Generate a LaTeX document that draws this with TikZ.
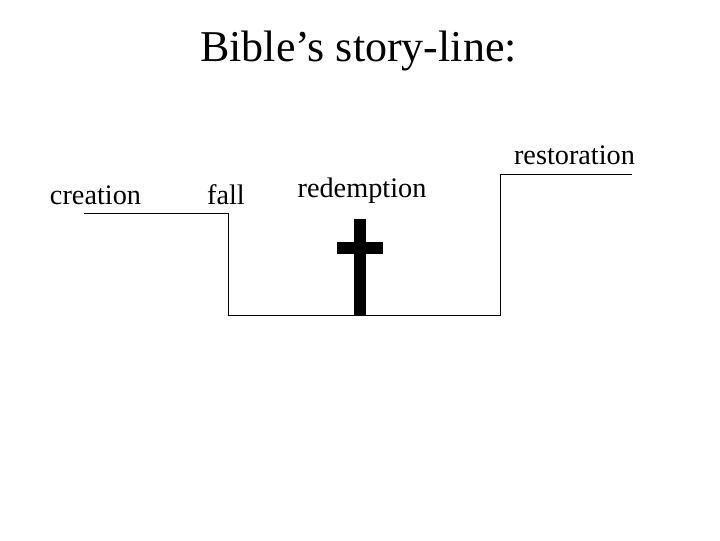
\documentclass[tikz,border=0pt]{standalone}
\usepackage{fontspec}
\setmainfont{Liberation Serif}
\tikzset{lbl/.style={inner sep=0pt,font=\fontsize{21.2pt}{24pt}\selectfont,anchor=base},
ln/.style={draw=black,line width=0.75pt}}
\begin{document}
\begin{tikzpicture}[x=0.75pt,y=-0.75pt]
\useasboundingbox[fill=white] (0,0) rectangle (720,540);
\node[inner sep=0pt,anchor=base,font=\fontsize{33pt}{40pt}\selectfont] (title) at (358.5,61) {Bible’s story-line:};
\node[lbl] (creation) at (95.5,204) {creation};
\node[lbl] (fall) at (226,204) {fall};
\node[lbl] (redemption) at (362,197) {redemption};
\node[lbl] (restoration) at (574.5,164) {restoration};
\coordinate (a) at (84,213.5);
\coordinate (b) at (228.5,213.5);
\coordinate (c) at (228.5,315.5);
\coordinate (d) at (500.5,315.5);
\coordinate (e) at (500.5,174.5);
\coordinate (f) at (632,174.5);
\draw[ln] (a) -- (b) -- (c) -- (d) -- (e) -- (f);
\fill[black] (354,219) rectangle (366,315);
\fill[black] (337,242) rectangle (383,254);
\end{tikzpicture}
\end{document}
